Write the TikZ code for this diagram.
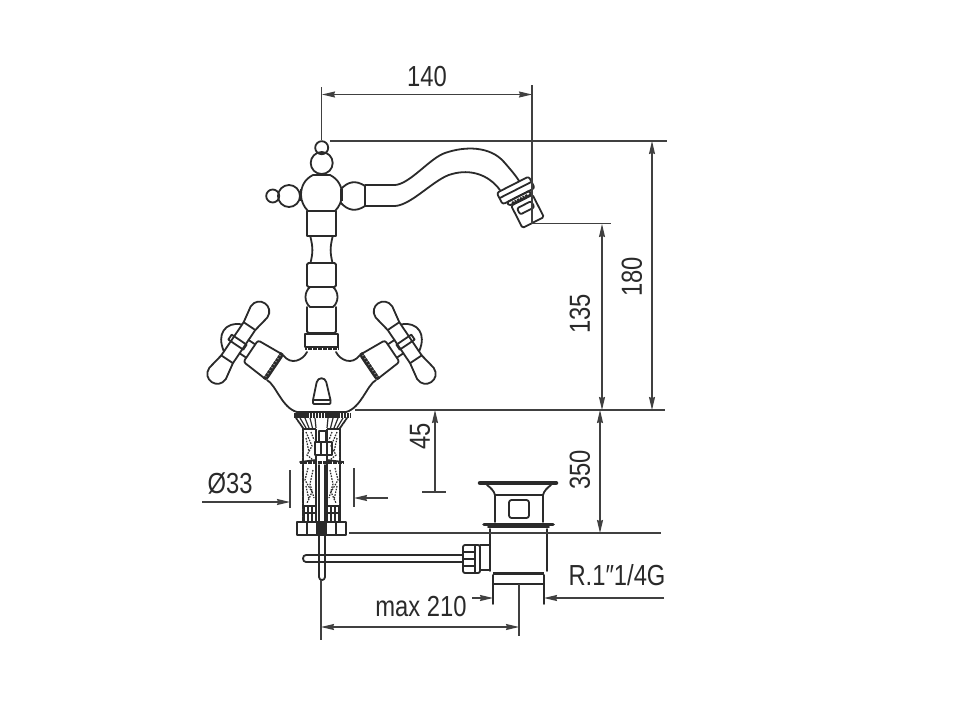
\documentclass[tikz,border=0pt]{standalone}
\usepackage{fontspec}
\setmainfont[FakeStretch=0.82]{Liberation Sans}
\usetikzlibrary{arrows.meta}
\definecolor{ink}{HTML}{2A2A2A}
\definecolor{dimink}{HTML}{404040}
\tikzset{
  outline/.style={draw=ink,line width=1.8pt,line join=round,line cap=round},
  thinout/.style={draw=ink,line width=1.2pt,line join=round},
  heavy/.style={draw=ink,line width=3.4pt},
  dimline/.style={draw=dimink,line width=1.2pt},
  arr/.style={-{Stealth[length=13pt,width=6pt,inset=1pt]}},
  rra/.style={{Stealth[length=13pt,width=6pt,inset=1pt]}-{Stealth[length=13pt,width=6pt,inset=1pt]}},
  lab/.style={text=ink,font=\fontsize{29}{29}\selectfont,inner sep=0pt},
  grain/.style={draw=ink,line width=1.2pt,dash pattern=on 1.6pt off 1.2pt},
}
\newcommand{\halfbody}{%
  \begin{scope}[shift={(238.3,342.7)},rotate=-34]
    % pills
    \draw[outline] (-7,-20) -- (-10,-37) .. controls (-10,-51) and (10,-51) .. (10,-37) -- (7,-20) -- cycle;
    \draw[outline] (-7,20) -- (-10,37) .. controls (-10,51) and (10,51) .. (10,37) -- (7,20) -- cycle;
    % centre bars
    \draw[outline] (-7,-20) -- (-7,20) (7,-20) -- (7,20);
    \draw[outline] (-10,-3) rectangle (8,3);
    % dome
    \draw[outline] (-7.5,-17) .. controls (-15,-14) and (-19,-8) .. (-19,-2) .. controls (-19,4) and (-15,10) .. (-7.5,15);
    % neck
    \draw[outline] (7,-8) -- (15,-8) (7,8) -- (15,8);
    % block
    \draw[outline,rounded corners=2.5pt,fill=white] (15,-13) -- (44,-15) -- (44,15) -- (15,13) -- cycle;
    \draw[heavy,dash pattern=on 3pt off .6pt] (42,-16) -- (42,16);
  \end{scope}
  % body contour
  \draw[outline] (307,352) .. controls (303,360) and (291,366) .. (283,355);
  \draw[outline] (267,380) .. controls (276,385) and (282,408) .. (297,412);
  % shank half details
  \draw[outline,dash pattern=on 2pt off .6pt] (296,418) -- (303,428) -- (303,522);
  \draw[thinout] (300,418) -- (306,428) (305,418) -- (309,428) (310,418) -- (312.5,428) (315,418) -- (316,428);
  % bottom nuts
  \draw[thinout] (304,506) rectangle (316,513);
  \draw[thinout] (304,513) rectangle (316,522);
  \draw[thinout] (308,506) -- (308,522) (312,506) -- (312,522);
  \draw[thinout] (304,429) -- (316,429);
  \draw[thinout] (316,429) -- (316,442);
  \draw[thinout] (316,455) -- (316,506);
  % grain
  \draw[grain] (306,432) -- (312,446) -- (307,455) -- (313,460);
  \draw[grain] (308,468) -- (305,480) -- (312,492) -- (307,503);
  \draw[grain] (313,470) -- (310,484) -- (314,498);
  \draw[grain] (306,438) -- (309,452);
  \draw[grain] (311,432) -- (314,440);
  \draw[grain] (306,486) -- (309,500);
  \draw[outline] (300,462) -- (316,460);
}
\begin{document}
\begin{tikzpicture}[x=1pt,y=-1pt]
\useasboundingbox (0,0) rectangle (960,720);
\fill[white] (0,0) rectangle (960,720);

% --- mixer column ---
\draw[outline] (321.7,147.7) circle [radius=6.5];
\draw[outline] (321.7,163) circle [radius=11];
\draw[outline] (289,196) circle [radius=11];
\draw[outline] (272.7,196) circle [radius=6.5];
\draw[outline] (365,186) .. controls (356,180) and (348,181) .. (340,190)
  -- (340,202) .. controls (348,211) and (356,212) .. (365,206) -- cycle;
\draw[outline,fill=white] (313,175) .. controls (305,179) and (301,186) .. (301,195)
  .. controls (301,201) and (304,207) .. (308,211) -- (335,211)
  .. controls (339,207) and (342,201) .. (342,195) .. controls (342,186) and (338,179) .. (330,175) -- cycle;
\draw[line width=2.6pt,draw=ink] (313,175) -- (330,175);
\draw[line width=2.8pt,draw=ink] (301,189) -- (301,201) (341.5,189) -- (341.5,201);

\draw[outline] (307,211) -- (307,236) -- (336,236) -- (336,211);
\draw[outline] (310.5,237) .. controls (313,248) and (313,252) .. (310.5,263);
\draw[outline] (332.5,237) .. controls (330,248) and (330,252) .. (332.5,263);
\draw[outline,rounded corners=1.5pt] (307,263) rectangle (336,287);
\draw[outline] (310,287) .. controls (304,292) and (304,302) .. (310,307) -- (333,307)
   .. controls (339,302) and (339,292) .. (333,287) -- cycle;
\draw[outline,rounded corners=1.5pt] (307,307) -- (307,333) -- (336,333) -- (336,307);
\draw[outline] (305,334) rectangle (338,347);
\draw[heavy,dash pattern=on 2pt off .5pt] (305,348) -- (338,348);

% --- spout ---
\draw[outline] (365,185) -- (395,185) .. controls (410,184) and (430,158) .. (445,153)
  .. controls (465,146) and (490,146) .. (504,162) .. controls (511,170) and (517,177) .. (521,184);
\draw[outline] (365,206) -- (395,206) .. controls (412,205) and (435,178) .. (452,174)
  .. controls (470,169) and (488,174) .. (500,190);
\begin{scope}[shift={(515.5,190)},rotate=27]
  \draw[outline,rounded corners=2.5pt,fill=white] (-18,-6) rectangle (18,7);
  \draw[outline] (-17,0) -- (17,0);
  \draw[outline,rounded corners=1.5pt] (-13,7) rectangle (12,11);
  % nozzle
  \draw[outline,rounded corners=1.5pt] (-11,12) -- (13,12) -- (13,37) -- (-11,37) -- cycle;
  \draw[outline,rounded corners=2pt] (-7,17) rectangle (9,24);
  \draw[heavy,dash pattern=on 2pt off 1pt] (-9,10.5) -- (9,10.5);
\end{scope}

% --- body and handles ---
\halfbody
\begin{scope}[xshift=643pt,xscale=-1]
  \halfbody
\end{scope}
\draw[outline] (297,412) -- (346,412);
\draw[heavy,dash pattern=on 2.5pt off .6pt,line width=5pt] (294,415) -- (351,415);
\draw[outline,rounded corners=1pt] (313,400) -- (316.5,383) .. controls (318,377) and (325,377) .. (326.5,383) -- (330.5,400) -- (330.5,404) -- (313,404) -- cycle;
\draw[outline] (313,400) -- (330.5,400);

% --- under-deck centre ---
\draw[outline] (315,442) rectangle (332,455);
\draw[outline] (321,442) -- (321,455) (327,442) -- (327,455);
\draw[outline] (319,431) rectangle (326,442);
\draw[line width=3pt,draw=ink,dash pattern=on 2pt off .5pt] (300,462) -- (343,462);
\draw[outline] (319,465) -- (319,522) (325,465) -- (325,522);
\draw[outline] (297,522) rectangle (346,535);
\draw[outline] (307,522) -- (307,535) (336,522) -- (336,535);
\fill[ink] (316,523) rectangle (327,534);
\draw[outline] (319,535) -- (319,577) .. controls (319,581) and (325,581) .. (325,577) -- (325,535);
\draw[outline,fill=white] (306,555) .. controls (302,555) and (302,562) .. (306,562) -- (463,562) -- (463,555) -- cycle;
\draw[outline] (319,555) -- (319,562) (325,555) -- (325,562);

% --- waste ---
\draw[line width=4.5pt,draw=ink,dash pattern=on 2pt off .6pt,line cap=round] (480,483) -- (556,483);
\draw[outline] (487,485) .. controls (491,488) and (494,491) .. (495,495) -- (495,522);
\draw[outline] (551,485) .. controls (547,488) and (544,491) .. (543,495) -- (543,522);
\draw[outline] (495,495) -- (543,495);
\draw[outline,rounded corners=2.5pt] (509,500) rectangle (529,518);
\draw[line width=3.6pt,draw=ink,line cap=round] (484,524.5) -- (553,524.5);
\draw[outline] (488,527) -- (549,527);
\draw[outline] (490,529) -- (490,571) (547,571) -- (547,529);
\draw[heavy] (493,573.5) -- (544,573.5);
\draw[outline] (493,575) -- (493,604) (544,575) -- (544,604);
\draw[outline] (493,584) -- (544,584);
\draw[outline] (480,545) -- (490,545) (480,570) -- (490,570);
\draw[outline,rounded corners=2pt] (463,545) rectangle (480,573);
\draw[thinout] (475,545) -- (475,573);
\draw[thinout] (463,552) -- (475,552) (463,559) -- (475,559) (463,566) -- (475,566);

% --- dimensions ---
\draw[dimline] (321.5,87) -- (321.5,140);
\draw[dimline] (532,85) -- (532,224);
\draw[dimline] (330,141) -- (667,141);
\draw[dimline] (533,223.5) -- (611,223.5);
\draw[dimline] (355,410) -- (665,410);
\draw[dimline] (349,533) -- (661,533);
\draw[dimline,rra] (322,94.5) -- (532,94.5);
\draw[dimline,rra] (652,141) -- (652,410);
\draw[dimline,rra] (602,224) -- (602,410);
\draw[dimline,rra] (600,410) -- (600,533);
\draw[dimline,arr] (435,492) -- (435,410);
\draw[dimline] (422,492) -- (446,492);
\draw[dimline,arr] (202,502) -- (290,502);
\draw[dimline] (290,470) -- (290,508);
\draw[dimline] (354,468) -- (354,507);
\draw[dimline,arr] (388,498) -- (354,498);
\draw[dimline,arr] (472,598) -- (493,598);
\draw[dimline,arr] (664,598) -- (544,598);
\draw[dimline] (321,580) -- (321,640);
\draw[dimline] (519,584) -- (519,636);
\draw[dimline,rra] (321,627) -- (519,627);

\node[lab] (d140) at (427,77) {140};
\node[lab,rotate=90] (d180) at (632,277) {180};
\node[lab,rotate=90] (d135) at (580,314) {135};
\node[lab,rotate=90] (d350) at (580,470) {350};
\node[lab,rotate=90] (d45) at (420,436) {45};
\node[lab] (d33) at (230,483) {Ø33};
\node[lab] (dmax) at (421,607) {max 210};
\node[lab] (dthread) at (617,575) {R.1″1/4G};
\end{tikzpicture}
\end{document}
